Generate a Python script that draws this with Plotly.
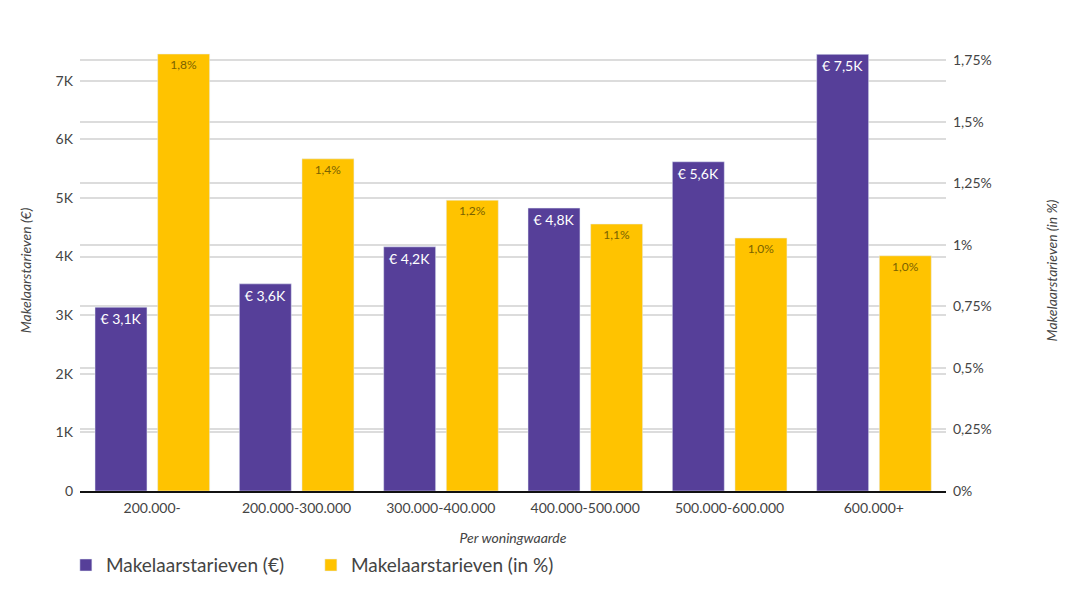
import plotly.graph_objects as go

# Data
categories = ['200.000-', '200.000-300.000', '300.000-400.000',
              '400.000-500.000', '500.000-600.000', '600.000+']
fee_eur = [3136, 3534, 4166, 4827, 5617, 7450]
fee_pct = [1.776, 1.350, 1.182, 1.085, 1.028, 0.956]
eur_labels = ['€ 3,1K', '€ 3,6K', '€ 4,2K', '€ 4,8K', '€ 5,6K', '€ 7,5K']
pct_labels = ['1,8%', '1,4%', '1,2%', '1,1%', '1,0%', '1,0%']

left_ticks = [0, 1000, 2000, 3000, 4000, 5000, 6000, 7000]
left_ticktext = ['0', '1K', '2K', '3K', '4K', '5K', '6K', '7K']
right_ticks = [0, 0.25, 0.5, 0.75, 1, 1.25, 1.5, 1.75]
right_ticktext = ['0%', '0,25%', '0,5%', '0,75%', '1%', '1,25%', '1,5%', '1,75%']

purple = '#563f99'
yellow = '#ffc300'
font = 'Lato, sans-serif'

fig = go.Figure()

fig.add_trace(go.Bar(
    x=categories, y=fee_eur, name='Makelaarstarieven (€)',
    marker=dict(color=purple), width=0.36, offset=-0.396,
    text=eur_labels, textposition='inside', insidetextanchor='end',
    textfont=dict(color='white', size=14, family=font),
    textangle=0, cliponaxis=False, yaxis='y'
))
fig.add_trace(go.Bar(
    x=categories, y=fee_pct, name='Makelaarstarieven (in %)',
    marker=dict(color=yellow), width=0.36, offset=0.038,
    text=pct_labels, textposition='inside', insidetextanchor='end',
    textfont=dict(color='#7a6200', size=12, family=font),
    textangle=0, cliponaxis=False, yaxis='y2'
))

# page has an 8px body margin, so margins are shifted to compensate
fig.update_layout(
    width=1092, height=594,
    margin=dict(l=72, r=154, t=42, b=111, autoexpand=False),
    plot_bgcolor='white', paper_bgcolor='white',
    font=dict(family=font, color='#444', size=13),
    barmode='group',
    xaxis=dict(
        title=dict(text='<i>Per woningwaarde</i>', font=dict(size=14, color='#444'), standoff=18),
        showline=True, linecolor='#111', linewidth=2, automargin=False,
        tickfont=dict(size=14, color='#444'), ticks='', showgrid=False,
        ticklabelstandoff=3,
    ),
    yaxis=dict(
        title=dict(text='<i>Makelaarstarieven (€)</i>', font=dict(size=14, color='#444'), standoff=20),
        range=[0, 7524], tickvals=left_ticks, ticktext=left_ticktext, automargin=False,
        showgrid=True, gridcolor='#dcdcdc', gridwidth=1.5, zeroline=False,
        tickfont=dict(size=14, color='#444'), ticklabelstandoff=6,
    ),
    yaxis2=dict(
        title=dict(text='<i>Makelaarstarieven (in %)</i>', font=dict(size=14, color='#444'), standoff=56),
        range=[0, 1.7924], tickvals=right_ticks, ticktext=right_ticktext, automargin=False,
        overlaying='y', side='right',
        showgrid=True, gridcolor='#dcdcdc', gridwidth=1.5, zeroline=False,
        tickfont=dict(size=14, color='#444'), ticklabelstandoff=6,
    ),
    legend=dict(
        orientation='h', xref='container', yref='container',
        x=0.053, xanchor='left', y=0.094, yanchor='top',
        font=dict(size=19, color='#444'), itemwidth=30,
        entrywidth=200, entrywidthmode='pixels',
    ),
)

fig.write_html("out.html")
